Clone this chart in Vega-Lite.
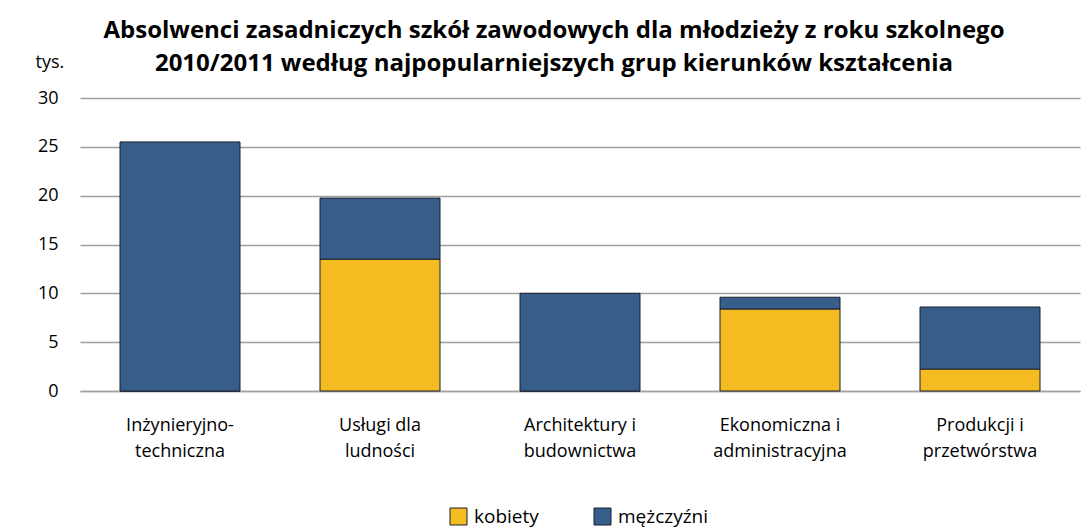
{
  "$schema": "https://vega.github.io/schema/vega-lite/v6.json",
  "autosize": "none",
  "width": 1000,
  "height": 293,
  "padding": {"left": 80, "top": 98, "right": 1, "bottom": 138},
  "background": "white",
  "title": {
    "text": ["Absolwenci zasadniczych szkół zawodowych dla młodzieży z roku szkolnego", "2010/2011 według najpopularniejszych grup kierunków kształcenia"],
    "font": "Open Sans",
    "fontSize": 24,
    "fontWeight": "bold",
    "color": "#000000",
    "anchor": "middle",
    "frame": "group",
    "dx": -26,
    "offset": -23,
    "lineHeight": 33
  },
  "data": {
    "values": [
      {"kierunek": "Inżynieryjno-|techniczna", "plec": "kobiety", "wartosc": 0},
      {"kierunek": "Inżynieryjno-|techniczna", "plec": "mężczyźni", "wartosc": 25.5},
      {"kierunek": "Usługi dla|ludności", "plec": "kobiety", "wartosc": 13.5},
      {"kierunek": "Usługi dla|ludności", "plec": "mężczyźni", "wartosc": 6.25},
      {"kierunek": "Architektury i|budownictwa", "plec": "kobiety", "wartosc": 0},
      {"kierunek": "Architektury i|budownictwa", "plec": "mężczyźni", "wartosc": 10.0},
      {"kierunek": "Ekonomiczna i|administracyjna", "plec": "kobiety", "wartosc": 8.4},
      {"kierunek": "Ekonomiczna i|administracyjna", "plec": "mężczyźni", "wartosc": 1.2},
      {"kierunek": "Produkcji i|przetwórstwa", "plec": "kobiety", "wartosc": 2.25},
      {"kierunek": "Produkcji i|przetwórstwa", "plec": "mężczyźni", "wartosc": 6.35}
    ]
  },
  "mark": {"type": "bar", "stroke": "#1b1f2a", "strokeWidth": 1},
  "encoding": {
    "x": {
      "field": "kierunek",
      "type": "nominal",
      "sort": null,
      "scale": {"paddingInner": 0.4, "paddingOuter": 0.2},
      "axis": {
        "title": null,
        "labelAngle": 0,
        "labelExpr": "split(datum.label, '|')",
        "labelFont": "Open Sans",
        "labelFontSize": 18,
        "labelColor": "#000000",
        "labelLineHeight": 26,
        "labelPadding": 25,
        "ticks": false,
        "domainColor": "#a0a0a0",
        "domainWidth": 1.5
      }
    },
    "y": {
      "field": "wartosc",
      "type": "quantitative",
      "stack": "zero",
      "scale": {"domain": [0, 30], "nice": false},
      "axis": {
        "values": [0, 5, 10, 15, 20, 25, 30],
        "title": "tys.",
        "titleAngle": 0,
        "titleAlign": "left",
        "titleBaseline": "middle",
        "titleX": -45,
        "titleY": -36,
        "titleFont": "Open Sans",
        "titleFontSize": 18,
        "titleFontWeight": "normal",
        "titleColor": "#000000",
        "labelFont": "Open Sans",
        "labelFontSize": 18,
        "labelColor": "#000000",
        "labelPadding": 22,
        "ticks": false,
        "domain": false,
        "gridColor": "#a0a0a0",
        "gridWidth": 1.5
      }
    },
    "order": {"field": "plec", "sort": "ascending"},
    "color": {
      "field": "plec",
      "type": "nominal",
      "scale": {"domain": ["kobiety", "mężczyźni"], "range": ["#f5bc22", "#375d8a"]},
      "legend": {
        "title": null,
        "orient": "none",
        "legendX": 369,
        "legendY": 409,
        "direction": "horizontal",
        "symbolType": "square",
        "symbolSize": 289,
        "symbolStrokeColor": "#1b1f2a",
        "symbolStrokeWidth": 1,
        "labelFont": "Open Sans",
        "labelFontSize": 19,
        "labelColor": "#000000",
        "columnPadding": 53,
        "labelOffset": 6
      }
    }
  },
  "config": {"view": {"stroke": null}}
}
